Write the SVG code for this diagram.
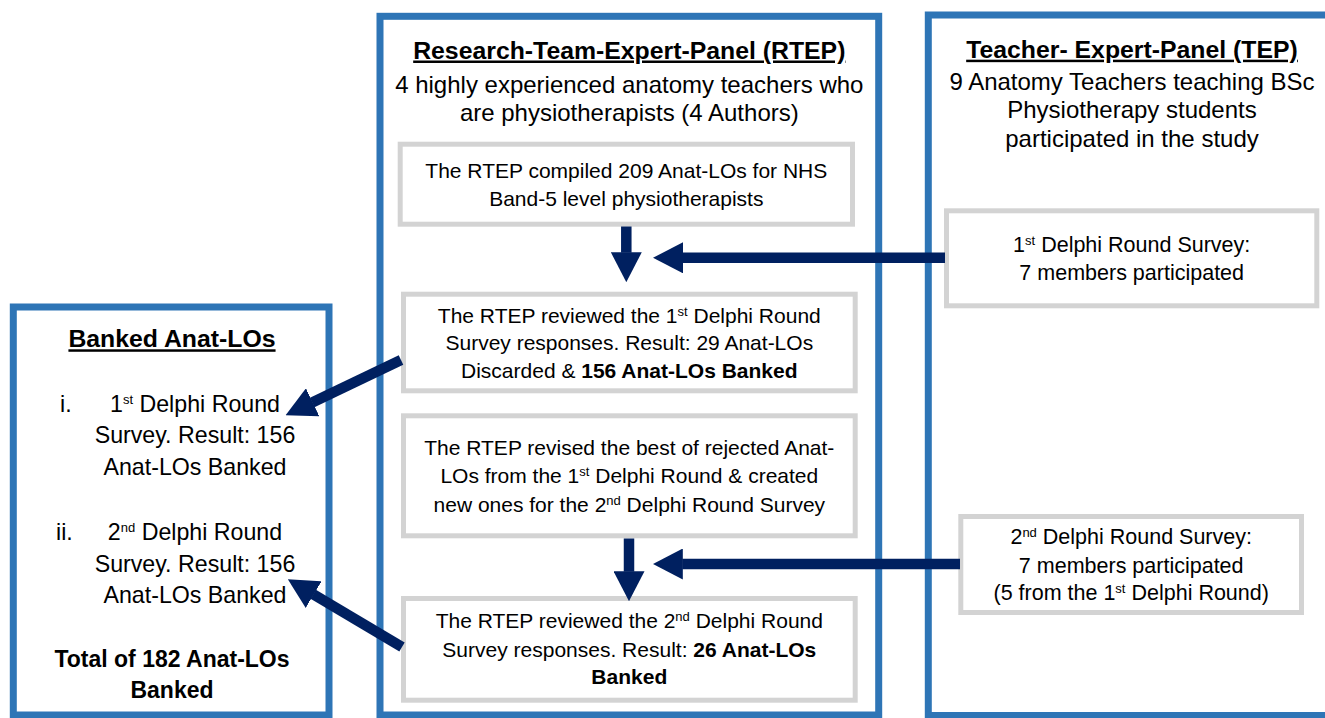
<svg xmlns="http://www.w3.org/2000/svg" width="1325" height="718" viewBox="0 0 1325 718">
<defs>
<style>
.panel{fill:#fff;stroke:#2E75B6;stroke-width:7}
.box{fill:#fff;stroke:#D3D3D3;stroke-width:5}
.conn{stroke:#002060;stroke-width:10.5;fill:none;marker-end:url(#ah)}
text{font-family:"Liberation Sans",Arial,sans-serif;fill:#000;text-anchor:middle}
.t{font-weight:bold;font-size:24.8px;text-decoration:underline}
.h{font-size:24px}
.b{font-size:21px}
.tb{font-size:21.5px}
.l{font-size:23.2px}
.lb{font-size:23px;font-weight:bold}
.st{text-anchor:start}
.bold{font-weight:bold}
.sup{font-size:13px}
</style>
<marker id="ah" markerUnits="userSpaceOnUse" markerWidth="30" markerHeight="31" viewBox="0 0 30 31" refX="0.5" refY="15.5" orient="auto"><path d="M0,0L30,15.5L0,31Z" fill="#002060"/></marker>
</defs>
<rect width="1325" height="718" fill="#fff"/>

<g id="banked-panel">
<rect class="panel" x="13.3" y="307" width="315.7" height="408"/>
<text class="t" x="172" y="347.3">Banked Anat-LOs</text>
<text class="l st" x="60" y="411.7">i.</text>
<text class="l" x="195" y="411.7">1<tspan class="sup" dy="-8">st</tspan><tspan dy="8"> Delphi Round</tspan></text>
<text class="l" x="195" y="443.3">Survey. Result: 156</text>
<text class="l" x="195" y="475">Anat-LOs Banked</text>
<text class="l st" x="56" y="540">ii.</text>
<text class="l" x="195" y="540">2<tspan class="sup" dy="-8">nd</tspan><tspan dy="8"> Delphi Round</tspan></text>
<text class="l" x="195" y="571.7">Survey. Result: 156</text>
<text class="l" x="195" y="603.3">Anat-LOs Banked</text>
<text class="lb" x="172" y="666.7">Total of 182 Anat-LOs</text>
<text class="lb" x="172" y="698.3">Banked</text>
</g>

<g id="rtep-panel">
<rect class="panel" x="380" y="16.3" width="498.7" height="698.7"/>
<text class="t" x="629.3" y="58.5">Research-Team-Expert-Panel (RTEP)</text>
<text class="h" x="629.3" y="92.7">4 highly experienced anatomy teachers who</text>
<text class="h" x="629.3" y="121">are physiotherapists (4 Authors)</text>
</g>

<g id="tep-panel">
<rect class="panel" x="928.3" y="15" width="410" height="700.5"/>
<text class="t" x="1132" y="57.7">Teacher- Expert-Panel (TEP)</text>
<text class="h" x="1132" y="90">9 Anatomy Teachers teaching BSc</text>
<text class="h" x="1132" y="118.3">Physiotherapy students</text>
<text class="h" x="1132" y="146.7">participated in the study</text>
</g>

<g id="rtep-compiled">
<rect class="box" x="400.2" y="144.2" width="452.3" height="80"/>
<text class="b" x="626.3" y="178.3">The RTEP compiled 209 Anat-LOs for NHS</text>
<text class="b" x="626.3" y="206">Band-5 level physiotherapists</text>
</g>

<g id="rtep-review-1">
<rect class="box" x="403.5" y="294.2" width="451.7" height="96.6"/>
<text class="b" x="629.3" y="322.7">The RTEP reviewed the 1<tspan class="sup" dy="-7">st</tspan><tspan dy="7"> Delphi Round</tspan></text>
<text class="b" x="629.3" y="350">Survey responses. Result: 29 Anat-LOs</text>
<text class="b" x="629.3" y="378">Discarded &amp; <tspan class="bold">156 Anat-LOs Banked</tspan></text>
</g>

<g id="rtep-revise">
<rect class="box" x="403.5" y="415.8" width="451.7" height="120"/>
<text class="b" x="629.3" y="455">The RTEP revised the best of rejected Anat-</text>
<text class="b" x="629.3" y="483.3">LOs from the 1<tspan class="sup" dy="-7">st</tspan><tspan dy="7"> Delphi Round &amp; created</tspan></text>
<text class="b" x="629.3" y="511.7">new ones for the 2<tspan class="sup" dy="-7">nd</tspan><tspan dy="7"> Delphi Round Survey</tspan></text>
</g>

<g id="rtep-review-2">
<rect class="box" x="403.5" y="598.5" width="451.7" height="101.7"/>
<text class="b" x="629.3" y="628.3">The RTEP reviewed the 2<tspan class="sup" dy="-7">nd</tspan><tspan dy="7"> Delphi Round</tspan></text>
<text class="b" x="629.3" y="656.7">Survey responses. Result: <tspan class="bold">26 Anat-LOs</tspan></text>
<text class="b bold" x="629.3" y="684">Banked</text>
</g>

<g id="tep-round-1">
<rect class="box" x="946.5" y="210.8" width="370.3" height="95"/>
<text class="tb" x="1131.7" y="251.7">1<tspan class="sup" dy="-7">st</tspan><tspan dy="7"> Delphi Round Survey:</tspan></text>
<text class="tb" x="1131.7" y="280">7 members participated</text>
</g>

<g id="tep-round-2">
<rect class="box" x="960.8" y="516.5" width="340.7" height="96"/>
<text class="tb" x="1131.2" y="544.3">2<tspan class="sup" dy="-7">nd</tspan><tspan dy="7"> Delphi Round Survey:</tspan></text>
<text class="tb" x="1131.2" y="572.7">7 members participated</text>
<text class="tb" x="1131.2" y="600">(5 from the 1<tspan class="sup" dy="-7">st</tspan><tspan dy="7"> Delphi Round)</tspan></text>
</g>

<g id="connectors">
<path class="conn" d="M626.3,226.5V252.7"/>
<path class="conn" d="M629,538.5V571.7"/>
<path class="conn" d="M945,257.8H682.5"/>
<path class="conn" d="M960,564H682.3"/>
<path class="conn" d="M401,360L312.2,402.5"/>
<path class="conn" d="M402,647L313.2,594.3"/>
</g>
</svg>
